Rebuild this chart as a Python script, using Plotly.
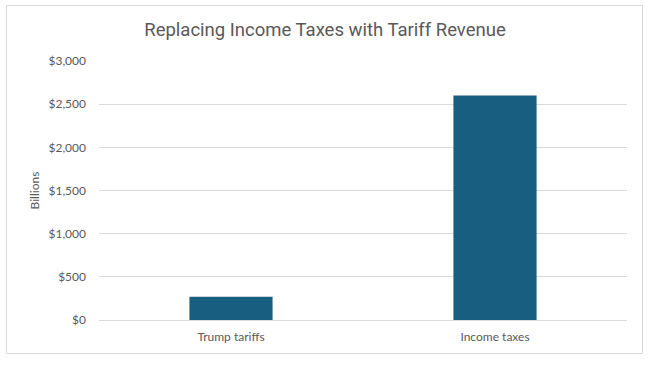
import plotly.graph_objects as go

categories = ["Trump tariffs", "Income taxes"]
values = [270, 2600]
tick_vals = [0, 500, 1000, 1500, 2000, 2500, 3000]
tick_text = ["$0", "$500", "$1,000", "$1,500", "$2,000", "$2,500", "$3,000"]

L, R, T, B = 99, 23, 61, 45
W, H = 650, 365
pw, ph = W - L - R, H - T - B

def px_x(px):
    return (px - L) / pw

def px_y(py):
    return (H - B - py) / ph

fig = go.Figure(go.Bar(
    x=categories, y=values,
    marker=dict(color="#175E80", line=dict(width=0)),
    width=0.315,
    hoverinfo="skip",
))

fig.update_layout(
    width=W, height=H,
    margin=dict(l=L, r=R, t=T, b=B),
    paper_bgcolor="white", plot_bgcolor="white",
    showlegend=False,
    title=dict(text="Replacing Income Taxes with Tariff Revenue",
               x=0.5, xanchor="center", y=1 - 30/H, yanchor="middle",
               font=dict(family="Roboto", size=18.5, color="#595959")),
    font=dict(family="Lato", size=12, color="#595959"),
    xaxis=dict(showgrid=False, showline=True, linecolor="#D9D9D9", linewidth=1,
               ticks="", tickfont=dict(family="Lato", size=12, color="#595959"),
               ticklabelstandoff=6),
    yaxis=dict(range=[0, 3000], tickvals=tick_vals, ticktext=tick_text,
               showgrid=True, gridcolor="#D9D9D9", gridwidth=1,
               zeroline=False, showline=False, ticks="",
               tickfont=dict(family="Lato", size=12, color="#595959"),
               ticklabelstandoff=12,
               title=dict(text="Billions", standoff=6,
                          font=dict(family="Lato", size=12, color="#595959"))),
    shapes=[dict(type="rect", xref="paper", yref="paper",
                 x0=px_x(6.5), x1=px_x(642.5), y0=px_y(353.5), y1=px_y(5.5),
                 line=dict(color="#D9D9D9", width=1), fillcolor="rgba(0,0,0,0)",
                 layer="below")],
)

fig.write_html("out.html", config={"displayModeBar": False},
               post_script="document.body.style.margin='0';document.body.style.overflow='hidden';")
